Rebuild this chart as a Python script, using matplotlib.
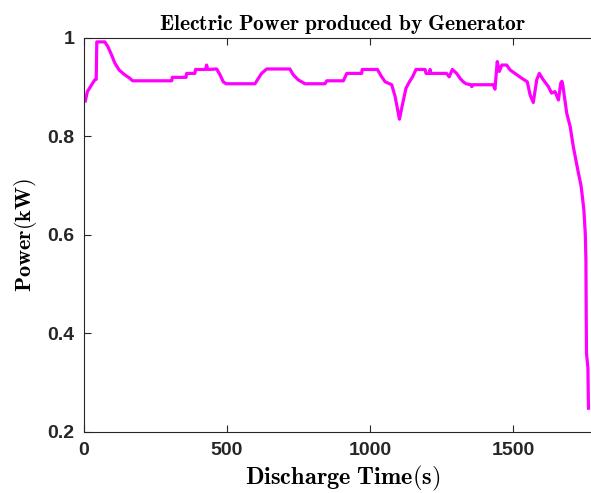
import numpy as np
import matplotlib
matplotlib.use("Agg")
import matplotlib.pyplot as plt

plt.rcParams['mathtext.fontset'] = 'cm'

# generator output over the discharge run
time_s = [5, 12, 27, 38, 43, 45, 73, 84, 97, 108, 123, 143, 161, 170, 307, 309,
          357, 359, 388, 390, 425, 429, 433, 464, 476, 487, 497, 598, 610, 621,
          639, 720, 732, 749, 773, 843, 849, 907, 919, 971, 973, 1026, 1041,
          1053, 1076, 1088, 1103, 1117, 1126, 1138, 1149, 1161, 1193, 1196,
          1208, 1210, 1213, 1268, 1277, 1288, 1303, 1315, 1326, 1336, 1353,
          1356, 1360, 1431, 1437, 1445, 1452, 1461, 1478, 1490, 1507, 1531,
          1550, 1560, 1571, 1583, 1592, 1606, 1624, 1635, 1647, 1659, 1667,
          1671, 1674, 1688, 1700, 1711, 1729, 1738, 1744, 1748, 1750, 1753,
          1755, 1756, 1757, 1762, 1764]
power_kw = [0.872, 0.891, 0.905, 0.915, 0.916, 0.992, 0.992, 0.982, 0.965,
            0.949, 0.935, 0.925, 0.918, 0.913, 0.913, 0.920, 0.920, 0.928,
            0.928, 0.936, 0.936, 0.945, 0.936, 0.937, 0.925, 0.911, 0.907,
            0.907, 0.918, 0.928, 0.937, 0.937, 0.925, 0.915, 0.907, 0.907,
            0.913, 0.913, 0.928, 0.928, 0.936, 0.936, 0.921, 0.911, 0.905,
            0.881, 0.835, 0.874, 0.898, 0.911, 0.921, 0.936, 0.936, 0.928,
            0.928, 0.936, 0.928, 0.928, 0.921, 0.936, 0.928, 0.918, 0.911,
            0.907, 0.905, 0.901, 0.905, 0.905, 0.896, 0.952, 0.932, 0.945,
            0.945, 0.935, 0.928, 0.918, 0.911, 0.884, 0.869, 0.915, 0.928,
            0.915, 0.901, 0.888, 0.891, 0.874, 0.908, 0.912, 0.905, 0.847,
            0.820, 0.779, 0.725, 0.700, 0.671, 0.650, 0.630, 0.600, 0.550,
            0.450, 0.360, 0.330, 0.248]

xticks = [0, 500, 1000, 1500]
yticks = [0.2, 0.4, 0.6, 0.8, 1.0]
ytick_labels = ['0.2', '0.4', '0.6', '0.8', '1']

fig = plt.figure(figsize=(5.91, 4.93), dpi=100)
# box runs past the right edge of the canvas
ax = fig.add_axes([0.142, 0.124, 0.876, 0.799])

ax.plot(time_s, power_kw, color='#ff00ff', lw=2.3)

ax.set_xlim(0, 1810)
ax.set_ylim(0.2, 1.0)
ax.set_xticks(xticks)
ax.set_yticks(yticks)
ax.set_yticklabels(ytick_labels)
ax.tick_params(direction='in', top=True, right=True, length=5, width=0.8,
               color='#262626', pad=7)
for lab in ax.get_xticklabels() + ax.get_yticklabels():
    lab.set_family('Liberation Sans')
    lab.set_fontweight('bold')
    lab.set_fontsize(14)
    lab.set_color('#262626')
for sp in ax.spines.values():
    sp.set_color('#262626')
    sp.set_linewidth(0.8)

ax.set_title(r'$\mathbf{Electric\ Power\ produced\ by\ Generator}$',
             fontsize=15.5, pad=6)
ax.set_xlabel(r'$\mathbf{Discharge\ Time(s)}$', fontsize=17.5, labelpad=4)
ax.set_ylabel(r'$\mathbf{Power(kW)}$', fontsize=16, labelpad=6)

fig.savefig('out.png', dpi=100)
